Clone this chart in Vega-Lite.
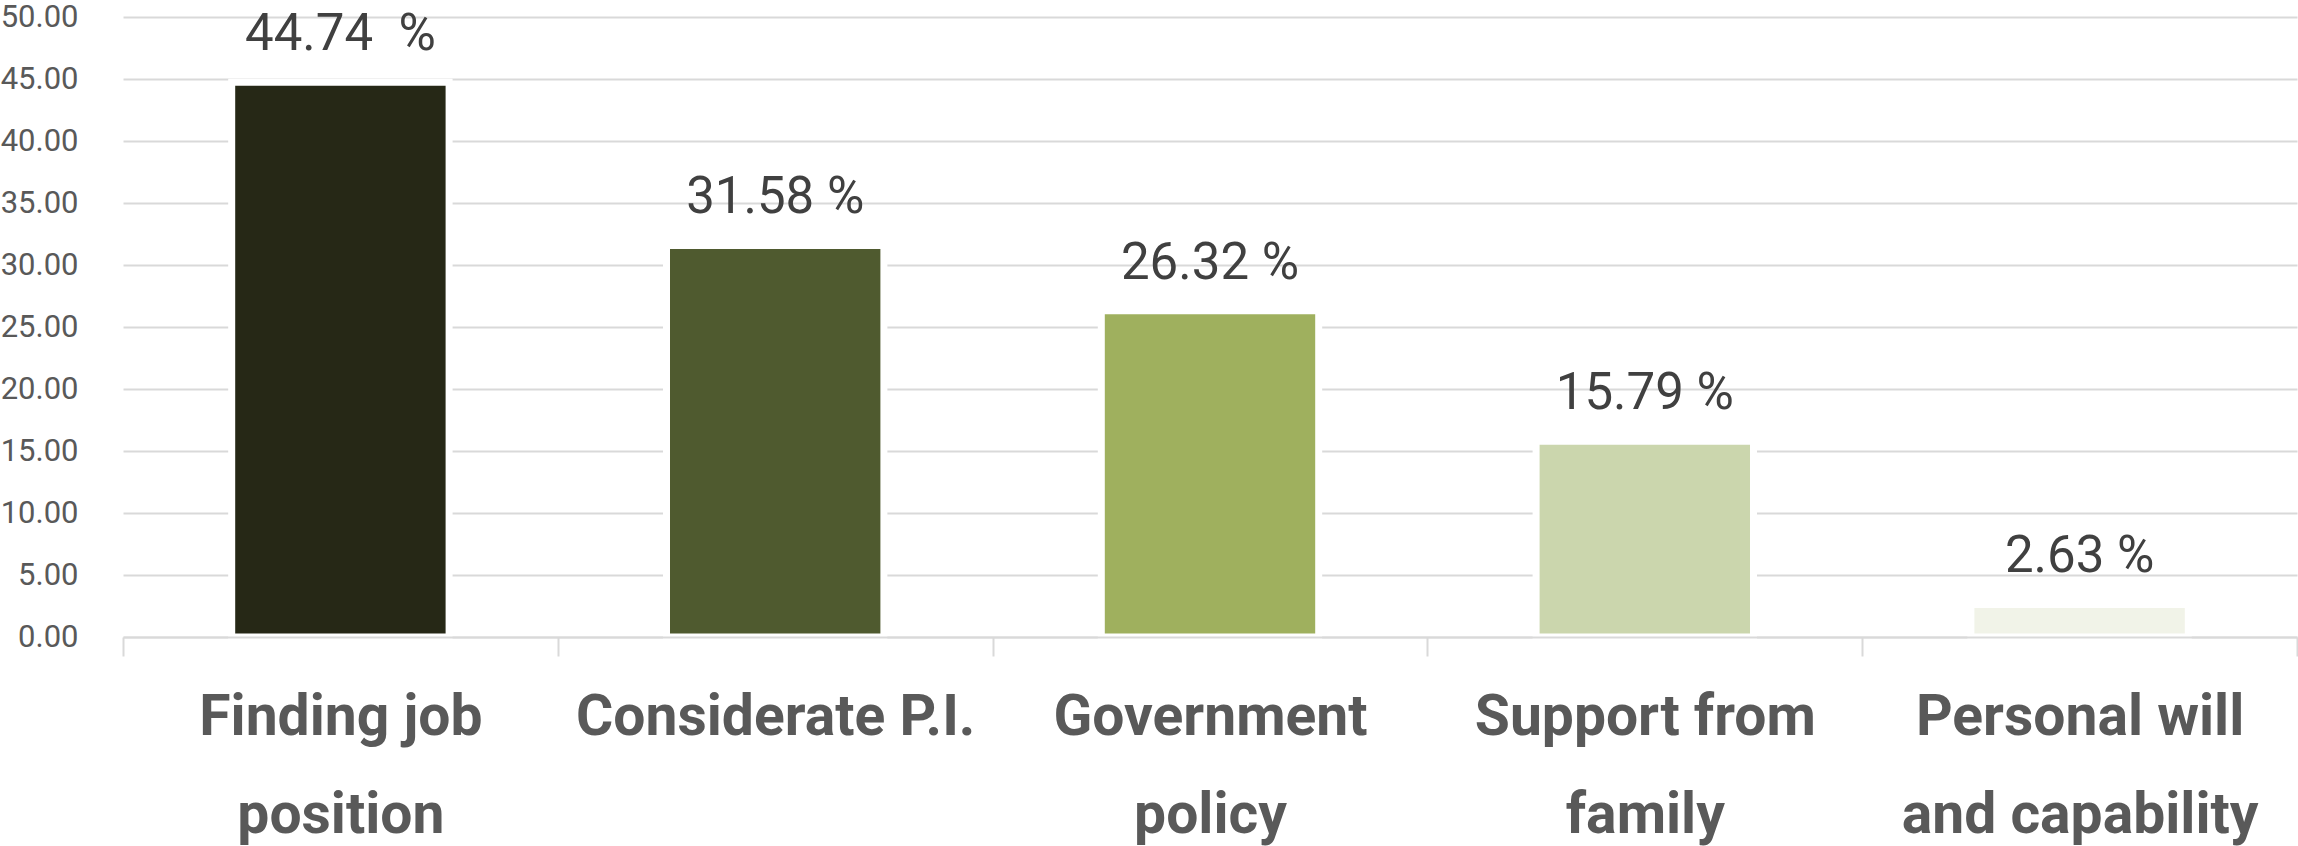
{
  "$schema": "https://vega.github.io/schema/vega-lite/v6.json",
  "autosize": "none",
  "width": 2174,
  "height": 620,
  "padding": {"left": 123, "top": 17, "right": 1, "bottom": 209},
  "background": "white",
  "config": {"view": {"stroke": null}},
  "data": {
    "values": [
      {"factor": "Finding job position", "share": 44.74, "label": "44.74\u00a0 %", "shade": "c1"},
      {"factor": "Considerate P.I.", "share": 31.58, "label": "31.58 %", "shade": "c2"},
      {"factor": "Government policy", "share": 26.32, "label": "26.32 %", "shade": "c3"},
      {"factor": "Support from family", "share": 15.79, "label": "15.79 %", "shade": "c4"},
      {"factor": "Personal will and capability", "share": 2.63, "label": "2.63 %", "shade": "c5"}
    ]
  },
  "encoding": {
    "x": {
      "field": "factor",
      "type": "nominal",
      "sort": null,
      "scale": {"paddingInner": 0, "paddingOuter": 0},
      "axis": {
        "title": null,
        "zindex": 1,
        "labelAngle": 0,
        "labelLimit": 0,
        "labelExpr": "datum.label == 'Finding job position' ? ['Finding job', 'position'] : datum.label == 'Government policy' ? ['Government', 'policy'] : datum.label == 'Support from family' ? ['Support from', 'family'] : datum.label == 'Personal will and capability' ? ['Personal will', 'and capability'] : datum.label",
        "labelFont": "Roboto",
        "labelFontWeight": "bold",
        "labelFontSize": 57,
        "labelColor": "#595959",
        "labelLineHeight": 98,
        "labelPadding": 33,
        "domainColor": "#d9d9d9",
        "domainWidth": 2,
        "tickColor": "#d9d9d9",
        "tickWidth": 2,
        "tickSize": 19,
        "tickBand": "extent"
      }
    },
    "y": {
      "field": "share",
      "type": "quantitative",
      "scale": {"domain": [0, 50], "nice": false},
      "axis": {
        "title": null,
        "values": [0, 5, 10, 15, 20, 25, 30, 35, 40, 45, 50],
        "format": ".2f",
        "domain": false,
        "ticks": false,
        "labelFont": "Roboto",
        "labelFontSize": 31,
        "labelColor": "#595959",
        "labelPadding": 45,
        "gridColor": "#d9d9d9",
        "gridWidth": 2
      }
    }
  },
  "layer": [
    {
      "mark": {"type": "bar", "width": {"band": 0.5}, "stroke": "white", "strokeWidth": 7},
      "encoding": {
        "color": {
          "field": "shade",
          "type": "nominal",
          "legend": null,
          "scale": {
            "domain": ["c1", "c2", "c3", "c4", "c5"],
            "range": ["#262816", "#4f5a2f", "#9fb05e", "#cbd6ad", "#f1f3e8"]
          }
        }
      }
    },
    {
      "mark": {"type": "text", "font": "Roboto", "fontSize": 51, "color": "#404040", "baseline": "alphabetic", "dy": -32},
      "encoding": {"text": {"field": "label"}}
    }
  ]
}
